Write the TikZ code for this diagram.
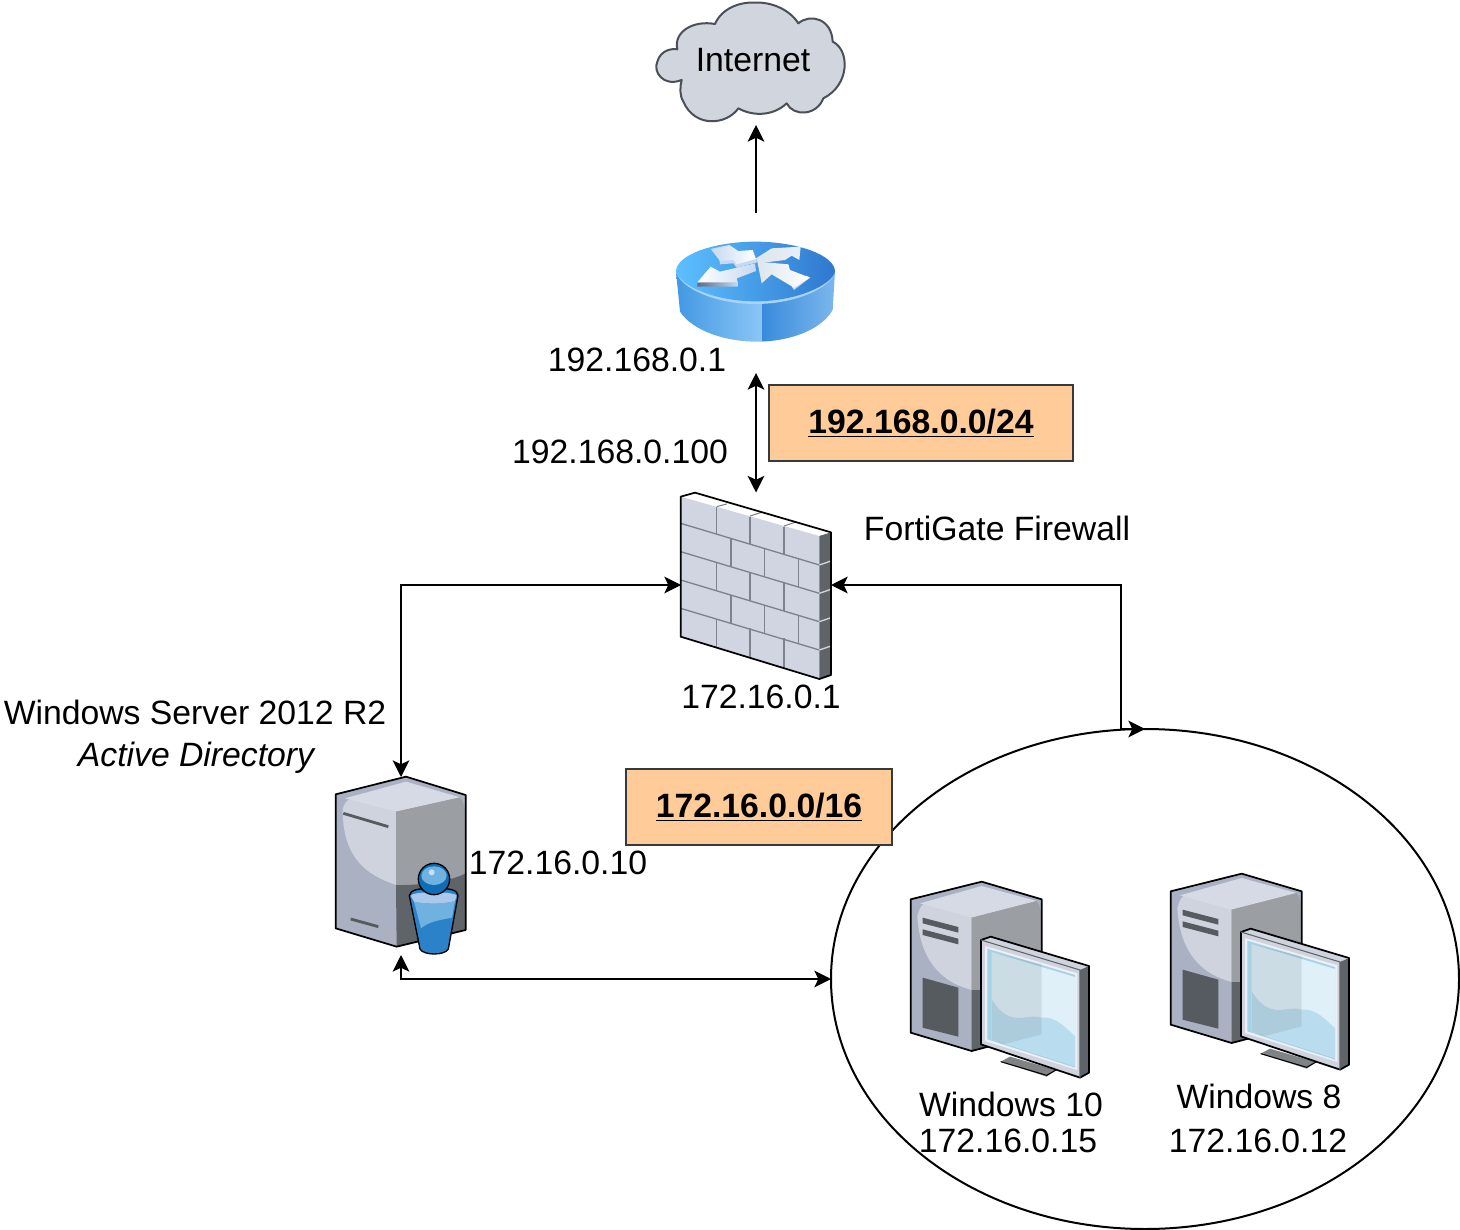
\documentclass[tikz,border=0pt]{standalone}
\usepackage{fontspec}
\setmainfont{Liberation Sans}
\usetikzlibrary{arrows.meta,shapes.geometric}
\definecolor{cloudfill}{HTML}{D1D5DE}
\definecolor{cloudedge}{HTML}{4A4F58}
\definecolor{faceleft}{HTML}{A9B1C2}
\definecolor{facehi}{HTML}{CFD3DE}
\definecolor{facetop}{HTML}{D6DAE4}
\definecolor{faceright}{HTML}{9B9EA3}
\definecolor{facedark}{HTML}{5F6468}
\definecolor{slotc}{HTML}{565B60}
\definecolor{brick}{HTML}{D1D5E2}
\definecolor{mortar}{HTML}{7D828C}
\definecolor{labelfill}{HTML}{FFCC99}
\definecolor{labeledge}{HTML}{36393D}
\definecolor{rimL}{HTML}{5CC0FF}
\definecolor{rimR}{HTML}{2F78CF}
\definecolor{sideA}{HTML}{3F97E2}
\definecolor{sideB}{HTML}{8CC6F6}
\definecolor{sideC}{HTML}{3A8BDD}
\definecolor{sideD}{HTML}{7DB8EC}
\definecolor{rimline}{HTML}{A8D4F7}
\definecolor{arrowA}{HTML}{E9EEF7}
\definecolor{arrowB}{HTML}{C6D8F2}
\definecolor{arrowC}{HTML}{DDE6EC}
\definecolor{arrowS}{HTML}{5F6B85}
\definecolor{userblue}{HTML}{2B82C9}
\definecolor{userdark}{HTML}{0F6DB5}
\definecolor{usermid}{HTML}{6FB2DF}
\definecolor{userpale}{HTML}{A9C8EC}
\definecolor{screenrim}{HTML}{A5D3E6}
\definecolor{screenhi}{HTML}{DFF0F9}
\definecolor{screenlo}{HTML}{B9DDEF}
\definecolor{bezel}{HTML}{EEF0F5}
\tikzset{
  txt/.style={font=\fontsize{25.3pt}{30pt}\selectfont,anchor=base,inner sep=0pt,text=black},
  netlabel/.style={draw=labeledge,fill=labelfill,line width=1.1pt,inner sep=0pt,
     font=\fontsize{25.3pt}{30pt}\selectfont\bfseries},
  link/.style={draw=black,line width=1.5pt,{Stealth[length=12.5pt,width=12.5pt,inset=3pt]}-{Stealth[length=12.5pt,width=12.5pt,inset=3pt]}},
  oneway/.style={draw=black,line width=1.5pt,-{Stealth[length=12.5pt,width=12.5pt,inset=3pt]}},
  anchorbox/.style={inner sep=0pt,outer sep=0pt,rectangle},
  iconline/.style={draw=black,line width=1.3pt,line join=round},
}
\newcommand{\pcicon}[2]{%
 \begin{scope}[shift={(#1,#2)},scale=1/3]
  \fill[faceleft] (32,100)--(245,47)--(425,100)--(425,500)--(215,555)--(32,500)--cycle;
  \fill[facehi] (52,150) .. controls (60,120) and (70,110) .. (85,105)--(215,155)--(215,372) .. controls (130,350) and (60,290) .. (52,150)--cycle;
  \fill[facetop] (60,112)--(245,60)--(410,105)--(215,155)--cycle;
  \fill[faceright] (215,155)--(410,105) .. controls (425,130) and (425,150) .. (425,175)--(425,330)
      .. controls (380,365) and (280,375) .. (215,372)--cycle;
  \fill[facedark] (215,372) .. controls (280,375) and (380,365) .. (425,330)--(425,500)--(215,555)--cycle;
  \fill[slotc] (68,155)--(175,183)--(175,200)--(68,172)--cycle;
  \fill[slotc] (68,190)--(175,218)--(175,235)--(68,207)--cycle;
  \fill[slotc] (68,335)--(175,365)--(175,512)--(68,485)--cycle;
  \draw[iconline] (32,100)--(245,47)--(425,100)--(425,500)--(215,555)--(32,500)--cycle;
  \fill[facedark!80] (302,587)--(330,572)--(468,612)--(440,632)--cycle;
  \draw[iconline,line width=.8pt] (302,587)--(440,628)--(468,612);
  \fill[facehi] (243,222)--(272,212)--(567,300)--(540,312)--(540,635)--(243,535)--cycle;
  \fill[facedark] (540,312)--(567,300)--(567,620)--(540,635)--cycle;
  \fill[bezel] (255,240)--(532,322)--(532,612)--(255,525)--cycle;
  \fill[screenrim] (262,248)--(525,327)--(525,605)--(262,520)--cycle;
  \fill[screenhi] (275,258)--(525,333)--(525,600)--(275,520)--cycle;
  \fill[screenlo] (275,400) .. controls (330,490) and (380,440) .. (425,455)
      .. controls (470,450) and (500,490) .. (525,510)--(525,600)--(275,520)--cycle;
  \fill[facedark,opacity=.14] (275,258)--(425,295)--(425,505)--(310,535)--(275,520)--cycle;
  \draw[iconline] (243,222)--(272,212)--(567,300)--(567,620)--(540,635)--(243,535)--cycle;
  \draw[draw=facedark,line width=.8pt] (243,222)--(540,312)--(540,635);
 \end{scope}%
}
\begin{document}
\begin{tikzpicture}[x=0.75pt,y=-0.75pt]
\useasboundingbox (0,0) rectangle (1460,1230);
\fill[white] (0,0) rectangle (1460,1230);

% subnet ellipse
\node[ellipse,draw=black,line width=1.5pt,fill=white,minimum width=471pt,minimum height=375pt,inner sep=0pt,outer sep=0pt] (lan) at (1145,979) {};

% cloud
\begin{scope}[shift={(640,0)},scale=1/3]
 \fill[cloudfill,draw=cloudedge,line width=1.5pt,line join=round]
  (112,148) .. controls (100,95) and (160,60) .. (225,72)
  .. controls (245,25) and (300,5) .. (345,8)
  .. controls (395,5) and (450,30) .. (475,70)
  .. controls (510,40) and (575,55) .. (578,125)
  .. controls (630,150) and (630,255) .. (550,295)
  .. controls (530,348) and (460,350) .. (440,310)
  .. controls (400,348) and (340,350) .. (295,325)
  .. controls (260,375) and (165,385) .. (130,305)
  .. controls (118,285) and (120,260) .. (125,240)
  .. controls (70,262) and (38,215) .. (52,185)
  .. controls (62,150) and (95,145) .. (112,148) -- cycle;
\end{scope}
\node[txt] (inet) at (753,72) {Internet};
\coordinate (cloudfoot) at (756,125);

% router
\begin{scope}[shift={(640,0)},scale=1/3]
 \begin{scope}
  \clip (108,815) -- (120,935) .. controls (160,995) and (260,1025) .. (350,1025)
        .. controls (440,1025) and (540,995) .. (578,930) -- (585,815) -- cycle;
  \shade[left color=sideA,right color=sideB] (100,800) rectangle (368,1030);
  \shade[left color=sideC,right color=sideD] (368,800) rectangle (590,1030);
 \end{scope}
 \fill[rimline] (108,815) .. controls (120,862) and (220,912) .. (347,912)
        .. controls (470,912) and (575,862) .. (585,815) -- cycle;
 \shade[left color=rimL,right color=rimR] (108,815) .. controls (108,765) and (220,725) .. (347,725)
        .. controls (470,725) and (585,765) .. (585,815)
        .. controls (575,855) and (470,904) .. (347,904)
        .. controls (220,904) and (120,855) .. (108,815) -- cycle;
\end{scope}
\begin{scope}[shift={(670,235)},scale=1/3]
 \fill[arrowB] (148,72)--(150,88)--(190,85)--(200,98)--(262,82)--(258,70)--cycle;
 \shade[left color=arrowB,right color=white] (122,42)--(178,30)--(205,48)--(248,45)--(258,72)--(200,88)--(190,75)--(150,78)--cycle;
 \shade[left color=arrowS,right color=arrowB] (82,142)--(203,140)--(203,155)--(82,155)--cycle;
 \shade[left color=white,right color=arrowB] (82,142)--(122,95)--(150,110)--(255,85)--(258,108)--(200,130)--(203,142)--cycle;
 \shade[left color=arrowC,right color=arrowA] (258,70)--(305,40)--(392,35)--(388,75)--(365,62)--(345,75)--(265,85)--cycle;
 \fill[arrowB] (420,128)--(372,165)--(365,155)--(410,122)--cycle;
 \shade[left color=arrowC,right color=white] (262,80)--(355,88)--(360,105)--(420,128)--(372,158)--(305,118)--(275,145)--cycle;
\end{scope}
\coordinate (routerup) at (756,213);
\coordinate (routerdown) at (756,373);
\node[txt] (routerip) at (637,372) {192.168.0.1};

% firewall
\node[anchorbox,minimum width=112.5pt,minimum height=138.75pt] (fw) at (756,585) {};
\begin{scope}[shift={(660,480)},scale=1/3]
 \fill[white] (62,50)--(105,38)--(513,157)--(478,168)--cycle;
 \fill[brick] (62,50)--(478,168)--(478,597)--(62,470)--cycle;
 \fill[facedark] (478,168)--(513,157)--(513,585)--(478,597)--cycle;
 \foreach \a in {130,215,300,385}{
   \draw[mortar,line width=1pt] (62,\a)--(478,{\a+125});
   \draw[brick,line width=1pt] (478,{\a+125})--(513,{\a+113});
 }
 \foreach \a/\b in {50/130,215/300,385/470}{
   \foreach \x in {170,270,372}{
     \draw[mortar,line width=1.1pt] (\x,{\a+.29*(\x-62)})--(\x,{\b+.3*(\x-62)});
   }
 }
 \foreach \a/\b in {130/215,300/385}{
   \foreach \x in {213,313,415}{
     \draw[mortar,line width=1.1pt] (\x,{\a+.3*(\x-62)})--(\x,{\b+.3*(\x-62)});
   }
 }
 \draw[mortar,line width=.8pt] (170,80)--(200,72) (270,108)--(305,97) (372,138)--(405,127);
 \draw[iconline] (62,50)--(105,38)--(513,157)--(513,585)--(478,597)--(62,470)--cycle;
\end{scope}
\node[txt] (fwname) at (997,540) {FortiGate Firewall};
\node[txt] (fwwan) at (620,464) {192.168.0.100};
\node[txt] (fwlan) at (761,708) {172.16.0.1};

% server
\node[anchorbox,minimum width=97.5pt,minimum height=127.5pt] (srv) at (401,862) {};
\coordinate (srvfoot) at (401,955);
\begin{scope}[shift={(320,765)},scale=1/3]
 \fill[faceleft] (47,88)--(258,35)--(437,90)--(437,495)--(230,545)--(47,490)--cycle;
 \fill[facehi] (68,140) .. controls (70,115) and (80,105) .. (95,100)--(228,140)--(228,360)
    .. controls (140,330) and (70,280) .. (68,140)--cycle;
 \fill[facetop] (75,100)--(258,50)--(420,97)--(228,140)--cycle;
 \fill[faceright] (228,140)--(420,97) .. controls (437,120) and (437,150) .. (437,180)--(437,325)
    .. controls (390,350) and (290,362) .. (228,360)--cycle;
 \fill[facedark] (228,360) .. controls (290,362) and (390,350) .. (437,325)--(437,495)--(230,545)--cycle;
 \draw[slotc,line width=2.1pt] (70,145)--(205,185);
 \draw[slotc,line width=2.1pt] (92,462)--(175,485);
 \draw[iconline] (47,88)--(258,35)--(437,90)--(437,495)--(230,545)--(47,490)--cycle;
 % user figure
 \fill[userblue,draw=black,line width=1pt] (268,392) .. controls (272,375) and (290,370) .. (342,370)
    .. controls (395,370) and (412,375) .. (414,392)
    -- (385,552) .. controls (375,572) and (310,572) .. (300,552) -- cycle;
 \fill[usermid] (282,410) .. controls (320,418) and (370,418) .. (405,408) -- (396,458)
    .. controls (360,465) and (325,470) .. (303,490) -- cycle;
 \fill[userpale] (272,392) .. controls (280,378) and (400,378) .. (410,392) -- (405,408)
    .. controls (370,418) and (320,418) .. (282,410) -- cycle;
 \fill[userdark,draw=black,line width=1pt] (342,342) circle (47);
 \fill[usermid] (342,332) ellipse (38 and 28);
 \fill[white!60!usermid] (335,322) circle (9);
\end{scope}
\node[txt] (srvname) at (195,724) {Windows Server 2012 R2};
\node[txt,font=\fontsize{25.3pt}{30pt}\selectfont\itshape] (srvrole) at (196,766) {Active Directory};
\node[txt] (srvip) at (558,874) {172.16.0.10};

% PCs
\pcicon{900}{866}
\pcicon{1160}{858}
\node[txt] (pcaname) at (1011,1116) {Windows 10};
\node[txt] (pcaip) at (1008,1152) {172.16.0.15};
\node[txt] (pcbname) at (1259,1108) {Windows 8};
\node[txt] (pcbip) at (1258,1152) {172.16.0.12};

% connectors
\draw[oneway] (routerup) -- (cloudfoot);
\draw[link] (routerdown) -- (fw.north);
\draw[link] (fw.west) -| (srv.north);
\draw[link] (fw.east) -- (1121,585) -- (1121,729) -- (lan.north);
\draw[link] (srvfoot) |- (lan.west);

% subnet labels
\node[netlabel,minimum width=228pt,minimum height=57pt] (neta) at (921,423) {\raisebox{2.4pt}{\underline{192.168.0.0/24}}};
\node[netlabel,minimum width=199.5pt,minimum height=57pt] (netb) at (759,807) {\raisebox{2.4pt}{\underline{172.16.0.0/16}}};
\end{tikzpicture}
\end{document}
